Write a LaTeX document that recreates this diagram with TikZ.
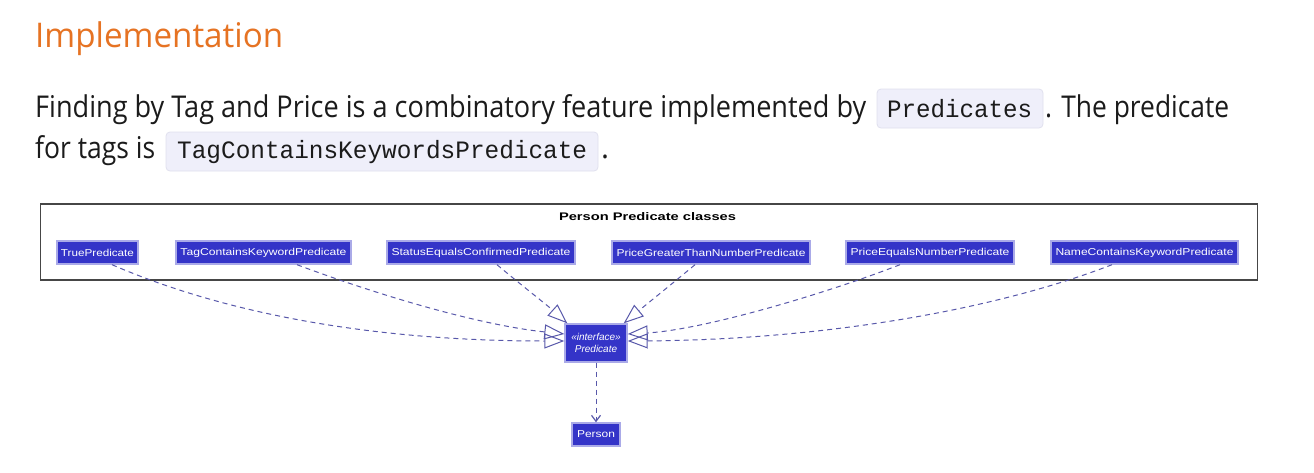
\documentclass[tikz,border=0pt]{standalone}
\usepackage{fontspec}
\setmainfont{Open Sans}
\newfontfamily\diafont{Liberation Sans}
\newfontfamily\codefont{Liberation Mono}
\usetikzlibrary{arrows.meta}
\definecolor{headcol}{RGB}{230,115,35}
\definecolor{bodytext}{RGB}{27,27,27}
\definecolor{codebg}{RGB}{239,239,250}
\definecolor{codeborder}{RGB}{224,224,238}
\definecolor{clsfill}{RGB}{52,52,200}
\definecolor{clsborder}{RGB}{170,170,232}
\definecolor{edgecol}{RGB}{88,88,170}
\definecolor{framecol}{RGB}{70,70,70}
\newcommand{\fitw}[2]{\resizebox{#1}{\height}{#2}}
\begin{document}
\begin{tikzpicture}[x=1pt,y=-1pt,
  txt/.style={anchor=base west, inner sep=0pt, text=bodytext, font=\fontsize{30}{36}\selectfont},
  headtxt/.style={anchor=base west, inner sep=0pt, text=headcol, font=\fontsize{34}{40}\selectfont},
  codebox/.style={draw=codeborder, fill=codebg, rounded corners=4pt, line width=0.8pt, inner sep=0pt},
  codetxt/.style={anchor=base west, inner sep=0pt, text=bodytext, font=\codefont\fontsize{25}{30}\selectfont},
  cls/.style={draw=clsborder, fill=clsfill, line width=1.4pt, text=white, inner sep=0pt, minimum height=23pt, font=\diafont\fontsize{10}{12}\selectfont},
  frame/.style={draw=framecol, line width=1.6pt, inner sep=0pt},
  realize/.style={draw=edgecol, line width=1pt, dash pattern=on 5pt off 4pt, -{Triangle[open, length=20pt, width=15pt, line width=1pt]}},
  depend/.style={draw=edgecol, line width=1pt, dash pattern=on 5pt off 4pt, -{Straight Barb[length=6pt, width=9pt, line width=1.2pt]}}
]
\useasboundingbox[fill=white] (0,0) rectangle (1314,472);

% heading and paragraph
\node[headtxt] (head) at (35,47) {\fitw{248pt}{Implementation}};
\node[txt] (l1a) at (35,117) {\fitw{831pt}{Finding by Tag and Price is a combinatory feature implemented by}};
\node[codebox, minimum width=166pt, minimum height=39pt] (cb1) at (960,108.5) {};
\node[codetxt] (ct1) at (887,117) {\fitw{145pt}{Predicates}};
\node[txt] (l1b) at (1045,117) {\fitw{184pt}{. The predicate}};
\node[txt] (l2a) at (35,158) {\fitw{120pt}{for tags is}};
\node[codebox, minimum width=432pt, minimum height=39pt] (cb2) at (382,151.5) {};
\node[codetxt] (ct2) at (177,158) {\fitw{410pt}{TagContainsKeywordsPredicate}};
\node[txt] (l2b) at (601,158) {.};

% diagram frame
\node[frame, minimum width=1217pt, minimum height=76pt] (box) at (649,242) {};
\node[inner sep=0pt, font=\diafont\bfseries\fontsize{11}{13}\selectfont] (title) at (647.5,217) {\fitw{177pt}{Person Predicate classes}};

% classes
\node[cls, minimum width=81pt] (t1) at (97.5,252.5) {\fitw{73pt}{TruePredicate}};
\node[cls, minimum width=175pt] (t2) at (263.5,252.5) {\fitw{166pt}{TagContainsKeywordPredicate}};
\node[cls, minimum width=188pt] (t3) at (481,252.5) {\fitw{179pt}{StatusEqualsConfirmedPredicate}};
\node[cls, minimum width=198pt] (t4) at (711,252.5) {\fitw{189pt}{PriceGreaterThanNumberPredicate}};
\node[cls, minimum width=168pt] (t5) at (930,252.5) {\fitw{159pt}{PriceEqualsNumberPredicate}};
\node[cls, minimum width=187pt] (t6) at (1144.5,252.5) {\fitw{178pt}{NameContainsKeywordPredicate}};

\node[cls, minimum width=62pt, minimum height=38pt, align=center, font=\diafont\itshape\fontsize{10}{12.5}\selectfont] (pred) at (596,343) {«interface»\\Predicate};
\node[cls, minimum width=48pt] (person) at (596,434.5) {\fitw{38pt}{Person}};

% realizations
\draw[realize] ([xshift=14.5pt]t1.south) .. controls +(118,51) and +(-185,0) .. ([yshift=2pt]pred.west);
\draw[realize] ([xshift=33.5pt]t2.south) .. controls +(83,31) and +(-85,-9) .. ([yshift=9pt]pred.west);
\draw[realize] ([xshift=16pt]t3.south) .. controls +(25,21) and +(-20,-18) .. ([xshift=3pt]pred.north west);
\draw[realize] ([xshift=-16pt]t4.south) .. controls +(-24,20) and +(24,-20) .. ([xshift=-4pt]pred.north east);
\draw[realize] ([xshift=-30pt]t5.south) .. controls +(-80,31) and +(73,-4) .. ([yshift=9pt]pred.east);
\draw[realize] ([xshift=-32.5pt]t6.south) .. controls +(-132,51) and +(173,-1) .. ([yshift=2pt]pred.east);

% dependency
\draw[depend] (pred) -- (person);
\end{tikzpicture}
\end{document}
